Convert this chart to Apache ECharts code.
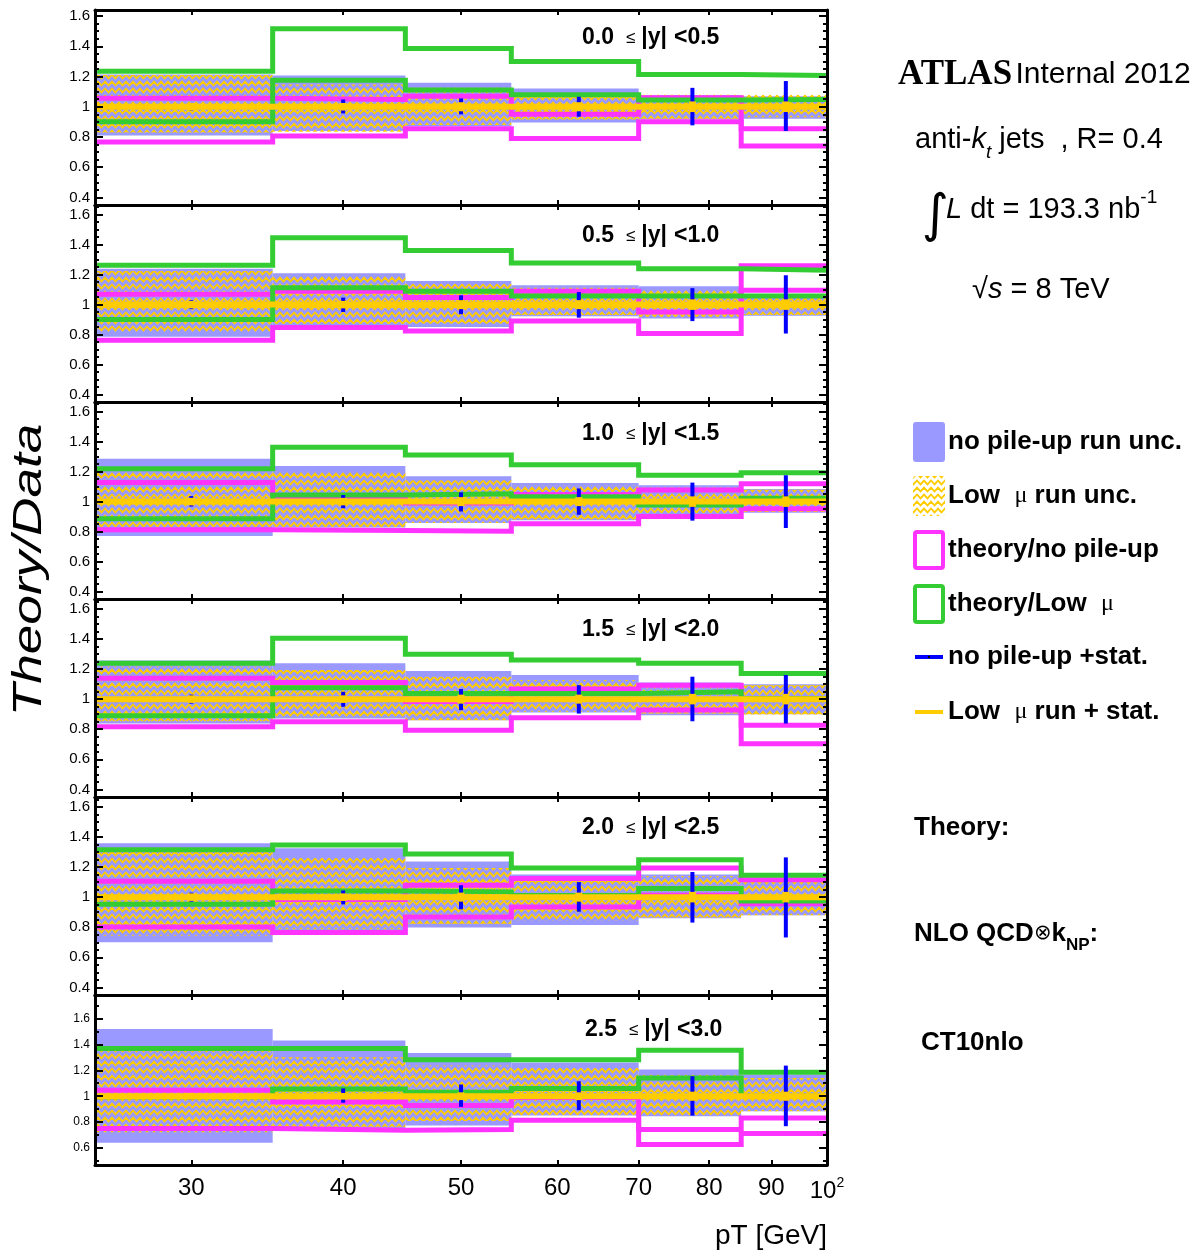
<!DOCTYPE html>
<html>
<head>
<meta charset="utf-8">
<script src="https://cdn.jsdelivr.net/npm/echarts@6/dist/echarts.min.js"></script>
<style>
  html, body { margin: 0; padding: 0; background: #fff; }
  #chart { width: 1197px; height: 1257px; }
</style>
</head>
<body>
<div id="chart"></div>
<script>
const SANS = "'Liberation Sans', Arial, Helvetica, sans-serif";
const SERIF = "'Liberation Serif', 'Times New Roman', serif";

// pT bins [GeV] and |y| slices
const binEdges = [25, 35, 45, 55, 70, 85, 100];
const binCenters = [30, 40, 50, 62.5, 77.5, 92.5];
const rapidityEdges = ["0.0", "0.5", "1.0", "1.5", "2.0", "2.5", "3.0"];
const xTickValues = [30, 40, 50, 60, 70, 80, 90, 100];
const yTickValues = [0.4, 0.6, 0.8, 1, 1.2, 1.4, 1.6];

// no pile-up run uncertainty band (one row per |y| slice)
const noPileupUncLo = [
  [0.81, 0.84, 0.87, 0.895, 0.915, 0.92],
  [0.785, 0.855, 0.85, 0.922, 0.907, 0.925],
  [0.77, 0.828, 0.857, 0.875, 0.915, 0.925],
  [0.838, 0.872, 0.86, 0.912, 0.893, 0.9],
  [0.70, 0.775, 0.798, 0.815, 0.86, 0.88],
  [0.641, 0.75, 0.774, 0.851, 0.845, 0.885],
];
const noPileupUncHi = [
  [1.213, 1.207, 1.158, 1.12, 1.077, 1.07],
  [1.24, 1.21, 1.158, 1.13, 1.122, 1.05],
  [1.286, 1.237, 1.169, 1.125, 1.11, 1.085],
  [1.256, 1.238, 1.187, 1.16, 1.11, 1.098],
  [1.358, 1.325, 1.237, 1.15, 1.15, 1.123],
  [1.518, 1.43, 1.333, 1.26, 1.205, 1.167],
];

// low mu run uncertainty band (hatched)
const lowMuUncLo = [
  [0.83, 0.835, 0.88, 0.915, 0.92, 0.93],
  [0.818, 0.87, 0.873, 0.93, 0.918, 0.93],
  [0.83, 0.828, 0.857, 0.88, 0.923, 0.93],
  [0.853, 0.876, 0.86, 0.916, 0.905, 0.898],
  [0.743, 0.787, 0.824, 0.842, 0.864, 0.88],
  [0.723, 0.764, 0.81, 0.851, 0.851, 0.885],
];
const lowMuUncHi = [
  [1.21, 1.147, 1.13, 1.09, 1.088, 1.08],
  [1.225, 1.195, 1.14, 1.113, 1.10, 1.05],
  [1.20, 1.20, 1.143, 1.11, 1.095, 1.08],
  [1.216, 1.193, 1.149, 1.127, 1.10, 1.093],
  [1.303, 1.26, 1.193, 1.138, 1.14, 1.116],
  [1.354, 1.30, 1.236, 1.218, 1.167, 1.141],
];

// theory / no pile-up (magenta box)
const theoryNoPileupLo = [
  [0.767, 0.806, 0.855, 0.79, 0.90, 0.74],
  [0.762, 0.847, 0.824, 0.89, 0.807, 1.096],
  [0.813, 0.807, 0.802, 0.853, 0.90, 0.952],
  [0.816, 0.849, 0.793, 0.876, 0.927, 0.704],
  [0.802, 0.765, 0.868, 0.934, 1.013, 0.956],
  [0.751, 0.738, 0.744, 0.815, 0.628, 0.713],
];
const theoryNoPileupHi = [
  [1.057, 1.048, 1.07, 0.95, 1.06, 0.855],
  [1.069, 1.09, 1.047, 1.09, 0.951, 1.26],
  [1.127, 1.02, 0.99, 1.048, 1.077, 1.12],
  [1.138, 1.111, 0.985, 1.067, 1.093, 0.827],
  [1.105, 0.985, 1.079, 1.123, 1.193, 1.116],
  [1.046, 0.956, 0.928, 0.99, 0.744, 0.833],
];

// theory / low mu (green box)
const theoryLowMuLo = [
  [0.90, 1.176, 1.11, 1.08, 1.044, 1.048],
  [0.90, 1.113, 1.09, 1.058, 1.058, 1.058],
  [0.886, 1.044, 1.053, 1.033, 0.978, 1.022],
  [0.889, 1.076, 1.038, 1.038, 1.049, 1.005],
  [0.952, 1.04, 1.035, 1.01, 1.057, 0.974],
  [0.995, 1.056, 1.03, 1.059, 1.141, 1.0],
];
const theoryLowMuHi = [
  [1.235, 1.516, 1.385, 1.30, 1.213, 1.207],
  [1.262, 1.447, 1.362, 1.278, 1.24, 1.229],
  [1.22, 1.363, 1.312, 1.246, 1.176, 1.193],
  [1.238, 1.404, 1.298, 1.26, 1.238, 1.171],
  [1.314, 1.347, 1.286, 1.193, 1.248, 1.145],
  [1.367, 1.367, 1.282, 1.282, 1.354, 1.185],
];

// no pile-up + stat. error bars
const noPileupStatLo = [
  [0.975, 0.956, 0.95, 0.934, 0.877, 0.84],
  [0.97, 0.951, 0.936, 0.913, 0.89, 0.807],
  [0.967, 0.956, 0.934, 0.912, 0.873, 0.824],
  [0.97, 0.949, 0.927, 0.904, 0.853, 0.838],
  [0.97, 0.952, 0.919, 0.903, 0.831, 0.732],
  [0.975, 0.95, 0.918, 0.892, 0.851, 0.769],
];
const noPileupStatHi = [
  [1.025, 1.048, 1.055, 1.066, 1.125, 1.17],
  [1.03, 1.047, 1.062, 1.084, 1.11, 1.196],
  [1.037, 1.044, 1.062, 1.088, 1.127, 1.176],
  [1.03, 1.049, 1.067, 1.093, 1.149, 1.16],
  [1.03, 1.044, 1.079, 1.10, 1.167, 1.264],
  [1.025, 1.06, 1.09, 1.115, 1.154, 1.236],
];

// low mu run + stat. (reference, = 1)
const lowMuRatio = [1, 1, 1, 1, 1, 1];
const lowMuStat = [0.025, 0.025, 0.03, 0.03, 0.035, 0.035];

// layout
const panelTop = [10, 205, 402, 599, 797, 995];
const panelHeight = [195, 197, 197, 198, 198, 170];
const yMin = [0.35, 0.35, 0.35, 0.35, 0.35, 0.47];
const yMax = [1.64, 1.665, 1.665, 1.665, 1.665, 1.78];

const colors = {
  band: "#9999ff",
  yellow: "#ffcc00",
  magenta: "#ff33ff",
  green: "#33cc33",
  blue: "#0000ff",
};

// woven hatch: yellow with see-through strands
function makeWeave() {
  const c = document.createElement("canvas");
  c.width = 14;
  c.height = 14;
  const g = c.getContext("2d");
  g.fillStyle = colors.yellow;
  g.fillRect(0, 0, 14, 14);
  g.globalCompositeOperation = "destination-out";
  g.lineWidth = 2.8;
  g.lineCap = "butt";
  g.beginPath();
  g.moveTo(-1, 0); g.lineTo(3.5, 5); g.lineTo(7, 1); g.lineTo(10.5, 5); g.lineTo(15, 0);
  g.moveTo(-1, 7); g.lineTo(3.5, 12); g.lineTo(7, 8); g.lineTo(10.5, 12); g.lineTo(15, 7);
  g.stroke();
  return c;
}
const weave = { image: makeWeave(), repeat: "repeat" };

function minorTicks(lo, hi, step) {
  const out = [];
  for (let k = Math.ceil(lo / step - 1e-9); k * step <= hi + 1e-9; k++) {
    const v = +(k * step).toFixed(3);
    if (Math.abs(v * 5 - Math.round(v * 5)) > 1e-6) out.push(v);
  }
  return out;
}

function bandSeries(p, lo, hi, fill, z) {
  return {
    type: "custom",
    xAxisIndex: 2 * p,
    yAxisIndex: 4 * p,
    z,
    silent: true,
    clip: true,
    data: lo.map((v, i) => [binEdges[i], binEdges[i + 1], v, hi[i]]),
    encode: { x: [0, 1], y: [2, 3] },
    renderItem(params, api) {
      const a = api.coord([api.value(0), api.value(3)]);
      const b = api.coord([api.value(1), api.value(2)]);
      return {
        type: "rect",
        shape: { x: a[0], y: a[1], width: b[0] - a[0], height: b[1] - a[1] },
        style: { fill },
      };
    },
  };
}

function stepSeries(p, vals, color, z, width) {
  return {
    type: "line",
    xAxisIndex: 2 * p,
    yAxisIndex: 4 * p,
    z,
    silent: true,
    step: "end",
    symbol: "none",
    clip: true,
    data: binEdges.map((x, i) => [x, vals[Math.min(i, vals.length - 1)]]),
    lineStyle: { color, width: width || 5, join: "miter", cap: "butt" },
  };
}

function errorSeries(p, lo, hi, color, z, width) {
  return {
    type: "custom",
    xAxisIndex: 2 * p,
    yAxisIndex: 4 * p,
    z,
    silent: true,
    clip: true,
    data: lo.map((v, i) => [binCenters[i], v, hi[i]]),
    encode: { x: 0, y: [1, 2] },
    renderItem(params, api) {
      const a = api.coord([api.value(0), api.value(2)]);
      const b = api.coord([api.value(0), api.value(1)]);
      return {
        type: "rect",
        shape: { x: a[0] - width / 2, y: a[1], width, height: b[1] - a[1] },
        style: { fill: color },
      };
    },
  };
}

const grids = [];
const xAxes = [];
const yAxes = [];
const series = [];
const frame = { show: true, lineStyle: { color: "#000", width: 3 } };
const tickLine = { color: "#000", width: 2 };

panelTop.forEach((top, p) => {
  const last = p === panelTop.length - 1;
  grids.push({ left: 95, width: 732, top, height: panelHeight[p] });

  const xBase = {
    type: "log",
    logBase: 10,
    min: 25,
    max: 100,
    gridIndex: p,
    z: 10,
    splitLine: { show: false },
    axisLine: frame,
    axisTick: { show: true, inside: true, length: 5, customValues: xTickValues.slice(0, 7), lineStyle: tickLine },
  };
  xAxes.push({
    ...xBase,
    position: "bottom",
    axisLabel: {
      show: last,
      customValues: xTickValues,
      margin: 11,
      color: "#000",
      fontFamily: SANS,
      fontSize: 24,
      formatter: (v) => (Math.round(v) === 100 ? "{t|10}{s|2}" : String(Math.round(v))),
      rich: {
        t: { fontFamily: SANS, fontSize: 24, color: "#000", lineHeight: 30 },
        s: { fontFamily: SANS, fontSize: 14, color: "#000", verticalAlign: "top", lineHeight: 30 },
      },
    },
  });
  xAxes.push({ ...xBase, position: "top", axisLabel: { show: false } });

  const majors = yTickValues.filter((v) => v >= yMin[p] && v <= yMax[p]);
  const minors = minorTicks(yMin[p], yMax[p], last ? 0.1 : 0.05);
  const yBase = { type: "value", min: yMin[p], max: yMax[p], gridIndex: p, z: 10, splitLine: { show: false } };
  yAxes.push({
    ...yBase,
    position: "left",
    axisLine: frame,
    axisTick: { show: true, inside: true, length: 8, customValues: majors, lineStyle: tickLine },
    axisLabel: {
      customValues: majors,
      margin: 5,
      color: "#000",
      fontFamily: SANS,
      fontSize: last ? 12 : 15,
      formatter: (v) => String(Math.round(v * 10) / 10),
    },
  });
  yAxes.push({
    ...yBase,
    position: "left",
    axisLine: { show: false },
    axisTick: { show: true, inside: true, length: 4, customValues: minors, lineStyle: tickLine },
    axisLabel: { show: false },
  });
  yAxes.push({
    ...yBase,
    position: "right",
    axisLine: frame,
    axisTick: { show: true, inside: true, length: 8, customValues: majors, lineStyle: tickLine },
    axisLabel: { show: false },
  });
  yAxes.push({
    ...yBase,
    position: "right",
    axisLine: { show: false },
    axisTick: { show: true, inside: true, length: 4, customValues: minors, lineStyle: tickLine },
    axisLabel: { show: false },
  });

  series.push(bandSeries(p, noPileupUncLo[p], noPileupUncHi[p], colors.band, 1));
  series.push(bandSeries(p, lowMuUncLo[p], lowMuUncHi[p], weave, 2));
  series.push(stepSeries(p, theoryNoPileupHi[p], colors.magenta, 3));
  series.push(stepSeries(p, theoryNoPileupLo[p], colors.magenta, 3));
  series.push(stepSeries(p, theoryLowMuHi[p], colors.green, 4));
  series.push(stepSeries(p, theoryLowMuLo[p], colors.green, 4));
  series.push(errorSeries(p, noPileupStatLo[p], noPileupStatHi[p], colors.blue, 5, 4));
  series.push(stepSeries(p, lowMuRatio, colors.yellow, 6, 6));
  series.push(errorSeries(
    p,
    lowMuRatio.map((v, i) => v - lowMuStat[i]),
    lowMuRatio.map((v, i) => v + lowMuStat[i]),
    colors.yellow, 7, 7,
  ));
});

// text and legend at the side
const rangeLabelY = [38, 236, 434, 630, 828, 1030];
const panelRich = {
  b: { fontFamily: SANS, fontWeight: "bold", fontSize: 23, fill: "#000" },
  n: { fontFamily: SANS, fontSize: 17, fill: "#000", padding: [0, 6, 0, 12] },
  g: { fontFamily: SANS, fontWeight: "bold", fontSize: 23, fill: "#000", padding: [0, 0, 0, 7] },
};
const sideBold = { fontFamily: SANS, fontWeight: "bold", fontSize: 26, fill: "#000" };
const legendY = [442, 496, 550, 604, 657, 712];
const legendText = [
  "no pile-up run unc.",
  "{b|Low  }{m|\u03bc}{b| run unc.}",
  "theory/no pile-up",
  "{b|theory/Low  }{m|\u03bc}",
  "no pile-up +stat.",
  "{b|Low  }{m|\u03bc}{b| run + stat.}",
];

const graphics = [
  {
    type: "text", x: 30, y: 570, rotation: Math.PI / 2, scaleX: 1.33,
    style: { text: "Theory/Data", font: `italic 40px ${SANS}`, fill: "#000", align: "center", verticalAlign: "middle" },
  },
  {
    type: "text", x: 827, y: 1236,
    style: { text: "pT [GeV]", font: `28px ${SANS}`, fill: "#000", align: "right", verticalAlign: "middle" },
  },
  {
    type: "text", x: 898, y: 75,
    style: {
      text: "{a|ATLAS} {b|Internal 2012}", align: "left", verticalAlign: "middle",
      rich: {
        a: { fontFamily: SERIF, fontWeight: "bold", fontSize: 35, fill: "#000" },
        b: { fontFamily: SANS, fontSize: 30, fill: "#000" },
      },
    },
  },
  {
    type: "text", x: 915, y: 140,
    style: {
      text: "{n|anti-}{i|k}{s|t}{n| jets  , R= 0.4}", align: "left", verticalAlign: "middle",
      rich: {
        n: { fontFamily: SANS, fontSize: 29, fill: "#000", lineHeight: 44 },
        i: { fontFamily: SANS, fontStyle: "italic", fontSize: 29, fill: "#000", lineHeight: 44 },
        s: { fontFamily: SANS, fontStyle: "italic", fontSize: 19, fill: "#000", verticalAlign: "bottom" },
      },
    },
  },
  {
    type: "text", x: 935, y: 217,
    style: { text: "\u222b", font: `52px 'DejaVu Sans', ${SANS}`, fill: "#000", align: "center", verticalAlign: "middle" },
  },
  {
    type: "text", x: 946, y: 210,
    style: {
      text: "{i|L}{n| dt = 193.3 nb}{s|-1}", align: "left", verticalAlign: "middle",
      rich: {
        n: { fontFamily: SANS, fontSize: 29, fill: "#000", lineHeight: 44 },
        i: { fontFamily: SANS, fontStyle: "italic", fontSize: 29, fill: "#000", lineHeight: 44 },
        s: { fontFamily: SANS, fontSize: 19, fill: "#000", verticalAlign: "top" },
      },
    },
  },
  {
    type: "text", x: 972, y: 290,
    style: {
      text: "{n|\u221a}{i|s}{n| = 8 TeV}", align: "left", verticalAlign: "middle",
      rich: {
        n: { fontFamily: SANS, fontSize: 29, fill: "#000" },
        i: { fontFamily: SANS, fontStyle: "italic", fontSize: 29, fill: "#000" },
      },
    },
  },
  { type: "rect", shape: { x: 913, y: 422, width: 32, height: 40, r: 3 }, style: { fill: colors.band } },
  { type: "rect", shape: { x: 913, y: 476, width: 32, height: 40, r: 3 }, style: { fill: weave } },
  { type: "rect", shape: { x: 915, y: 532, width: 28, height: 36, r: 2 }, style: { fill: "#fff", stroke: colors.magenta, lineWidth: 4 } },
  { type: "rect", shape: { x: 915, y: 586, width: 28, height: 36, r: 2 }, style: { fill: "#fff", stroke: colors.green, lineWidth: 4 } },
  { type: "line", shape: { x1: 915, y1: 657, x2: 943, y2: 657 }, style: { stroke: colors.blue, lineWidth: 4 } },
  { type: "circle", shape: { cx: 929, cy: 657, r: 1.2 }, style: { fill: "#000" } },
  { type: "line", shape: { x1: 915, y1: 712, x2: 943, y2: 712 }, style: { stroke: colors.yellow, lineWidth: 4 } },
  { type: "text", x: 914, y: 828, style: { text: "Theory:", align: "left", verticalAlign: "middle", ...sideBold } },
  {
    type: "text", x: 914, y: 934,
    style: {
      text: "{b|NLO QCD}{o|\u2297}{b|k}{s|NP}{b|:}", align: "left", verticalAlign: "middle",
      rich: {
        b: { ...sideBold, lineHeight: 40 },
        o: { fontFamily: "'DejaVu Sans', sans-serif", fontSize: 21, fill: "#000" },
        s: { ...sideBold, fontSize: 17, verticalAlign: "bottom" },
      },
    },
  },
  { type: "text", x: 921, y: 1043, style: { text: "CT10nlo", align: "left", verticalAlign: "middle", ...sideBold } },
];

legendText.forEach((t, i) => {
  graphics.push({
    type: "text", x: 948, y: legendY[i],
    style: {
      text: t.indexOf("{") === 0 ? t : `{b|${t}}`,
      align: "left", verticalAlign: "middle",
      rich: {
        b: sideBold,
        m: { fontFamily: SERIF, fontSize: 24, fill: "#000" },
      },
    },
  });
});

rapidityEdges.slice(0, -1).forEach((lo, p) => {
  graphics.push({
    type: "text", x: p === 5 ? 585 : 582, y: rangeLabelY[p],
    style: {
      text: `{b|${lo}}{n|\u2264}{b||y|}{g|<${rapidityEdges[p + 1]}}`,
      align: "left", verticalAlign: "middle",
      rich: panelRich,
    },
  });
});

const chart = echarts.init(document.getElementById("chart"));
chart.setOption({
  animation: false,
  backgroundColor: "#fff",
  grid: grids,
  xAxis: xAxes,
  yAxis: yAxes,
  series,
  graphic: { elements: graphics },
});
</script>
</body>
</html>
